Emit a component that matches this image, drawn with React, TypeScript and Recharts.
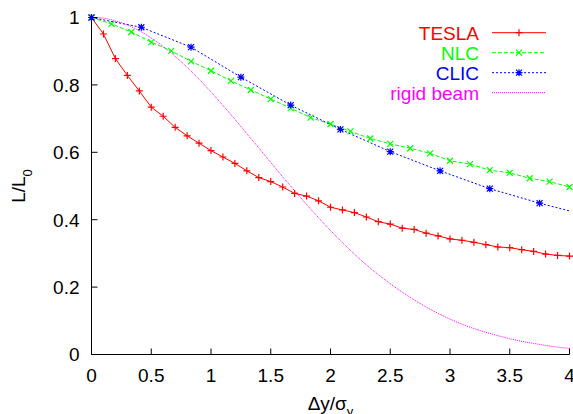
import React from 'react';
import { LineChart, Line, XAxis, YAxis, Legend, Label } from 'recharts';

const xTicks = [0, 0.5, 1, 1.5, 2, 2.5, 3, 3.5, 4];
const yTicks = [0, 0.2, 0.4, 0.6, 0.8, 1];

const teslaX = [0, 0.1, 0.2, 0.3, 0.4, 0.5, 0.6, 0.7, 0.8, 0.9, 1.0, 1.1, 1.2, 1.3, 1.4, 1.5, 1.6, 1.7, 1.8, 1.9, 2.0,
  2.1, 2.2, 2.3, 2.4, 2.5, 2.6, 2.7, 2.8, 2.9, 3.0, 3.1, 3.2, 3.3, 3.4, 3.5, 3.6, 3.7, 3.8, 3.9, 4.0];
const teslaY = [1, 0.951, 0.878, 0.828, 0.782, 0.734, 0.707, 0.674, 0.649, 0.627, 0.605, 0.586, 0.567, 0.545, 0.525,
  0.513, 0.497, 0.478, 0.470, 0.456, 0.437, 0.429, 0.421, 0.408, 0.394, 0.387, 0.375, 0.371, 0.360, 0.352, 0.343,
  0.339, 0.333, 0.326, 0.319, 0.317, 0.311, 0.306, 0.298, 0.294, 0.292];

const nlcX = [0, 0.167, 0.333, 0.5, 0.667, 0.833, 1, 1.167, 1.333, 1.5, 1.667, 1.833, 2, 2.167, 2.333, 2.5, 2.667,
  2.833, 3, 3.167, 3.333, 3.5, 3.667, 3.833, 4];
const nlcY = [1, 0.981, 0.957, 0.927, 0.901, 0.870, 0.842, 0.812, 0.785, 0.758, 0.731, 0.703, 0.684, 0.662, 0.641,
  0.625, 0.612, 0.597, 0.575, 0.565, 0.547, 0.539, 0.523, 0.513, 0.497];

const clicX = [0, 0.417, 0.833, 1.25, 1.667, 2.083, 2.5, 2.917, 3.333, 3.75, 4];
const clicY = [1, 0.971, 0.912, 0.823, 0.740, 0.668, 0.602, 0.545, 0.492, 0.449, 0.426];

const rigidX = [0, 0.1, 0.2, 0.3, 0.4, 0.5, 0.6, 0.7, 0.8, 0.9, 1.0, 1.1, 1.2, 1.3, 1.4, 1.5, 1.6, 1.7, 1.8, 1.9, 2.0,
  2.1, 2.2, 2.3, 2.4, 2.5, 2.6, 2.7, 2.8, 2.9, 3.0, 3.1, 3.2, 3.3, 3.4, 3.5, 3.6, 3.7, 3.8, 3.9, 4.0];
const rigidY = [1, 0.998, 0.990, 0.978, 0.961, 0.939, 0.914, 0.885, 0.852, 0.817, 0.779, 0.739, 0.698, 0.655, 0.613,
  0.570, 0.527, 0.486, 0.445, 0.406, 0.368, 0.332, 0.298, 0.266, 0.237, 0.210, 0.185, 0.162, 0.141, 0.122, 0.105,
  0.090, 0.077, 0.066, 0.056, 0.047, 0.039, 0.033, 0.027, 0.022, 0.018];

const seriesNames = ['TESLA', 'NLC', 'CLIC', 'rigid beam'];
const seriesColors = ['#ff0000', '#00ff00', '#0000ff', '#ff00ff'];
const seriesDash = ['', '4 2', '2 2', '1 1'];
const seriesMarker = ['plus', 'cross', 'star', 'none'];

const zip = (xs: number[], ys: number[]) => xs.map((x, i) => ({ x, y: ys[i] }));
const teslaData = zip(teslaX, teslaY);
const nlcData = zip(nlcX, nlcY);
const clicData = zip(clicX, clicY);
const rigidData = zip(rigidX, rigidY);

const FONT = '"Liberation Sans", Arial, Helvetica, sans-serif';
const FS = 19;

function marker(kind: string, cx: number, cy: number, color: string, key?: string) {
  const s = 3.5;
  const d = 3;
  let path = '';
  if (kind === 'plus') path = `M${cx - s},${cy}H${cx + s}M${cx},${cy - s}V${cy + s}`;
  else if (kind === 'cross') path = `M${cx - d},${cy - d}L${cx + d},${cy + d}M${cx - d},${cy + d}L${cx + d},${cy - d}`;
  else if (kind === 'star')
    path = `M${cx - s},${cy}H${cx + s}M${cx},${cy - s}V${cy + s}M${cx - d},${cy - d}L${cx + d},${cy + d}M${cx - d},${cy + d}L${cx + d},${cy - d}`;
  if (!path) return <g key={key} />;
  return <path key={key} d={path} stroke={color} strokeWidth={1.2} fill="none" />;
}

const makeDot = (idx: number, skipLast: number) => (p: any) => {
  if (p.cx == null || p.cy == null || p.index >= skipLast) return <g key={`d${idx}-${p.index}`} />;
  return marker(seriesMarker[idx], p.cx, p.cy, seriesColors[idx], `d${idx}-${p.index}`);
};

const BottomTick = (p: any) => (
  <g>
    <line x1={p.x} x2={p.x} y1={p.y} y2={p.y - 6} stroke="#000" strokeWidth={1} />
    <text x={p.x} y={p.y + 27.5} textAnchor="middle" fontFamily={FONT} fontSize={FS} fill="#000">
      {String(p.payload.value)}
    </text>
  </g>
);
const TopTick = (p: any) => (
  <line x1={p.x} x2={p.x} y1={p.y} y2={p.y + 6} stroke="#000" strokeWidth={1} />
);
const LeftTick = (p: any) => (
  <g>
    <line x1={p.x} x2={p.x + 6} y1={p.y} y2={p.y} stroke="#000" strokeWidth={1} />
    <text x={p.x - 12} y={p.y + 6.8} textAnchor="end" fontFamily={FONT} fontSize={FS} fill="#000">
      {String(p.payload.value)}
    </text>
  </g>
);
const RightTick = (p: any) => (
  <line x1={p.x} x2={p.x - 6} y1={p.y} y2={p.y} stroke="#000" strokeWidth={1} />
);

const XTitle = (props: any) => {
  const vb = props.viewBox || {};
  const cx = vb.x + vb.width / 2;
  return (
    <text x={cx} y={vb.y + 55} textAnchor="middle" fontFamily={FONT} fontSize={FS} fill="#000">
      Δy/σ<tspan dy={6} fontSize={13}>y</tspan>
    </text>
  );
};
const YTitle = (props: any) => {
  const vb = props.viewBox || {};
  const cy = vb.y + vb.height / 2;
  const x = 25;
  return (
    <text x={x} y={cy} transform={`rotate(-90 ${x} ${cy})`} textAnchor="middle" fontFamily={FONT} fontSize={FS} fill="#000">
      L/L<tspan dy={7} fontSize={13}>0</tspan>
    </text>
  );
};

const renderLegend = (props: any) => {
  const payload = [...(props.payload || [])].sort(
    (a: any, b: any) => seriesNames.indexOf(a.value) - seriesNames.indexOf(b.value)
  );
  return (
    <svg width={573} height={110} style={{ display: 'block', overflow: 'visible' }}>
      {payload.map((p: any) => {
        const idx = Math.max(0, seriesNames.indexOf(p.value));
        const y = 32.7 + 20 * idx;
        return (
          <g key={p.value}>
            <text x={479} y={y + 7.3} textAnchor="end" fontFamily={FONT} fontSize={FS} fill={p.color}>
              {p.value}
            </text>
            <line x1={492} x2={546} y1={y} y2={y} stroke={p.color} strokeWidth={1} strokeDasharray={seriesDash[idx] || undefined} />
            {marker(seriesMarker[idx], 519, y, p.color)}
          </g>
        );
      })}
    </svg>
  );
};

export default function App() {
  return (
    <div style={{ width: 573, height: 414, fontFamily: FONT, background: '#fff' }}>
      <style>{'body{margin:0}'}</style>
      <LineChart width={573} height={414} margin={{ top: 17.5, right: 3.5, bottom: 0, left: 0 }}>
        <XAxis xAxisId="b" type="number" dataKey="x" domain={[0, 4]} ticks={xTicks} interval={0} height={59.5}
          tickSize={0} tickMargin={0} tickLine={false} axisLine={{ stroke: '#000', strokeWidth: 1 }} tick={BottomTick}>
          <Label content={XTitle} />
        </XAxis>
        <XAxis xAxisId="t" orientation="top" type="number" dataKey="x" domain={[0, 4]} ticks={xTicks} interval={0} height={0}
          tickSize={0} tickMargin={0} tickLine={false} axisLine={{ stroke: '#000', strokeWidth: 1 }} tick={TopTick} />
        <YAxis yAxisId="l" type="number" domain={[0, 1]} ticks={yTicks} interval={0} width={91.5}
          tickSize={0} tickMargin={0} tickLine={false} axisLine={{ stroke: '#000', strokeWidth: 1 }} tick={LeftTick}>
          <Label content={YTitle} />
        </YAxis>
        <YAxis yAxisId="r" orientation="right" type="number" domain={[0, 1]} ticks={yTicks} interval={0} width={0}
          tickSize={0} tickMargin={0} tickLine={false} axisLine={{ stroke: '#000', strokeWidth: 1 }} tick={RightTick} />
        <Legend verticalAlign="top" align="left" layout="horizontal" content={renderLegend}
          wrapperStyle={{ position: 'absolute', top: 0, left: 0, width: 573, height: 0, overflow: 'visible' }} />
        <Line xAxisId="b" yAxisId="l" data={teslaData} dataKey="y" name={seriesNames[0]} stroke={seriesColors[0]}
          strokeWidth={1} dot={makeDot(0, 999)} activeDot={false} isAnimationActive={false} />
        <Line xAxisId="b" yAxisId="l" data={nlcData} dataKey="y" name={seriesNames[1]} stroke={seriesColors[1]}
          strokeWidth={1} strokeDasharray={seriesDash[1]} dot={makeDot(1, 999)} activeDot={false} isAnimationActive={false} />
        <Line xAxisId="b" yAxisId="l" data={clicData} dataKey="y" name={seriesNames[2]} stroke={seriesColors[2]}
          strokeWidth={1} strokeDasharray={seriesDash[2]} dot={makeDot(2, clicX.length - 1)} activeDot={false} isAnimationActive={false} />
        <Line xAxisId="b" yAxisId="l" data={rigidData} dataKey="y" name={seriesNames[3]} stroke={seriesColors[3]}
          strokeWidth={1} strokeDasharray={seriesDash[3]} type="monotone" dot={false} activeDot={false} isAnimationActive={false} />
      </LineChart>
    </div>
  );
}
